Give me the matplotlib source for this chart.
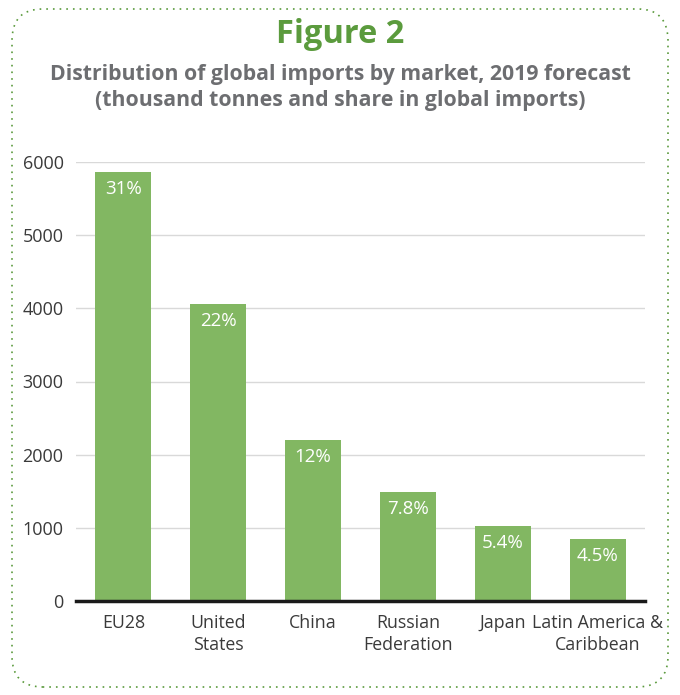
import matplotlib.pyplot as plt
from matplotlib.patches import FancyBboxPatch

markets = ['EU28', 'United\nStates', 'China', 'Russian\nFederation', 'Japan', 'Latin America &\nCaribbean']
imports = [5870, 4060, 2200, 1490, 1025, 850]
shares = ['31%', '22%', '12%', '7.8%', '5.4%', '4.5%']

green = '#82b762'
plt.rcParams['font.family'] = ['Open Sans', 'DejaVu Sans']

fig = plt.figure(figsize=(6.8, 6.95), dpi=100)

# dotted rounded frame
frame = FancyBboxPatch((12 / 680, 8 / 695), 656 / 680, 678 / 695,
                       boxstyle='round,pad=0,rounding_size=0.045',
                       transform=fig.transFigure, fill=False,
                       edgecolor='#5a9a3c', linestyle=(0, (1, 3)), linewidth=1.2)
fig.patches.append(frame)

fig.text(0.5, 0.950, 'Figure 2', ha='center', va='center', fontsize=23.5,
         fontweight='bold', color='#5b9b3d')
fig.text(0.5, 0.874, 'Distribution of global imports by market, 2019 forecast\n'
         '(thousand tonnes and share in global imports)',
         ha='center', va='center', fontsize=15.3, fontweight='bold',
         color='#6d6e71', linespacing=1.35)

ax = fig.add_axes([76 / 680, 1 - 601 / 695, (645 - 76) / 680, (601 - 162) / 695])
x = range(len(markets))
bars = ax.bar(x, imports, width=0.59, color=green, zorder=2)
for b, s in zip(bars, shares):
    ax.text(b.get_x() + b.get_width() / 2, b.get_height() - 110, s,
            ha='center', va='top', color='white', fontsize=13.5)

ax.set_xlim(-0.5, len(markets) - 0.5)
ax.set_ylim(0, 6000)
ax.set_yticks(range(0, 6001, 1000))
ax.set_xticks(list(x))
ax.set_xticklabels(markets, fontsize=12.8, color='#3a3a3a', linespacing=1.3)
ax.tick_params(axis='y', labelsize=13, labelcolor='#3a3a3a', length=0, pad=9)
ax.tick_params(axis='x', length=0, pad=9)
ax.grid(axis='y', color='#d9d9d9', linewidth=1, zorder=0)
for side in ['top', 'right', 'left']:
    ax.spines[side].set_visible(False)
ax.spines['bottom'].set_linewidth(2.5)
ax.spines['bottom'].set_color('#1a1a1a')
ax.spines['bottom'].set_zorder(3)

fig.savefig('out.png', dpi=100)
